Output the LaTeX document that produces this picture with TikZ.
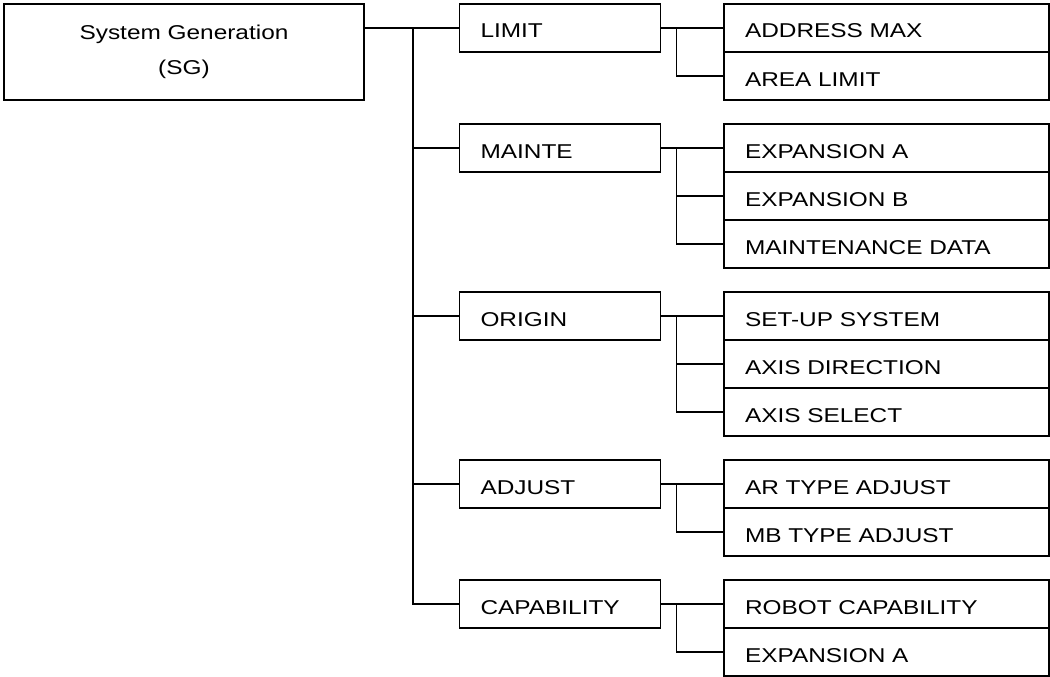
\documentclass[tikz,border=0pt]{standalone}
\usepackage{fontspec}
\setmainfont[FakeStretch=1.22]{Liberation Sans}
\usetikzlibrary{positioning}

\begin{document}
\begin{tikzpicture}[
    x=1pt, y=1pt,
    every node/.style={outer sep=0pt},
    box/.style={draw, line width=1.2pt, rectangle, font=\fontsize{20pt}{35pt}\selectfont},
    root/.style={box, minimum width=360pt, minimum height=96pt, align=center},
    lvone/.style={box, text width=159pt, inner xsep=21pt, minimum height=48pt, align=left, text height=20pt, text depth=0pt},
    leaf/.style={box, text width=283pt, inner xsep=21pt, minimum height=48pt, align=left, text height=20pt, text depth=0pt},
    link/.style={line width=1.2pt}
]
\useasboundingbox (0,0) rectangle (1050,-677);

% Khoi goc
\node[root, anchor=north west] (sg) at (4,-4) {System Generation\\(SG)};

% Cac muc cap 1
\node[lvone, anchor=north west] (limit) at ([xshift=95.5pt]sg.north east) {LIMIT};
\node[lvone, below=72pt of limit] (mainte) {MAINTE};
\node[lvone, below=120pt of mainte] (origin) {ORIGIN};
\node[lvone, below=120pt of origin] (adjust) {ADJUST};
\node[lvone, below=72pt of adjust] (capab) {CAPABILITY};

% Cac muc cap 2
\node[leaf, right=63.5pt of limit] (addrmax) {ADDRESS MAX};
\node[leaf, below=0pt of addrmax] (arealim) {AREA LIMIT};

\node[leaf, right=63.5pt of mainte] (expa) {EXPANSION A};
\node[leaf, below=0pt of expa] (expb) {EXPANSION B};
\node[leaf, below=0pt of expb] (mdata) {MAINTENANCE DATA};

\node[leaf, right=63.5pt of origin] (setup) {SET-UP SYSTEM};
\node[leaf, below=0pt of setup] (axisdir) {AXIS DIRECTION};
\node[leaf, below=0pt of axisdir] (axissel) {AXIS SELECT};

\node[leaf, right=63.5pt of adjust] (artype) {AR TYPE ADJUST};
\node[leaf, below=0pt of artype] (mbtype) {MB TYPE ADJUST};

\node[leaf, right=63.5pt of capab] (robcap) {ROBOT CAPABILITY};
\node[leaf, below=0pt of robcap] (expa2) {EXPANSION A};

% Duong noi tu goc
\coordinate (trunk) at ([xshift=49pt]sg.east);
\draw[link] (sg.east |- limit.west) -- (limit.west);
\draw[link] (trunk |- limit.west) -- (trunk |- capab.west) -- (capab.west);
\draw[link] (trunk |- mainte.west) -- (mainte.west);
\draw[link] (trunk |- origin.west) -- (origin.west);
\draw[link] (trunk |- adjust.west) -- (adjust.west);

% Duong noi cap 2
\draw[link] (limit.east) -- (addrmax.west);
\draw[link] ([xshift=16pt]limit.east) |- (arealim.west);

\draw[link] (mainte.east) -- (expa.west);
\draw[link] ([xshift=16pt]mainte.east) |- (mdata.west);
\draw[link] ([xshift=16pt]mainte.east |- expb.west) -- (expb.west);

\draw[link] (origin.east) -- (setup.west);
\draw[link] ([xshift=16pt]origin.east) |- (axissel.west);
\draw[link] ([xshift=16pt]origin.east |- axisdir.west) -- (axisdir.west);

\draw[link] (adjust.east) -- (artype.west);
\draw[link] ([xshift=16pt]adjust.east) |- (mbtype.west);

\draw[link] (capab.east) -- (robcap.west);
\draw[link] ([xshift=16pt]capab.east) |- (expa2.west);

\end{tikzpicture}
\end{document}
